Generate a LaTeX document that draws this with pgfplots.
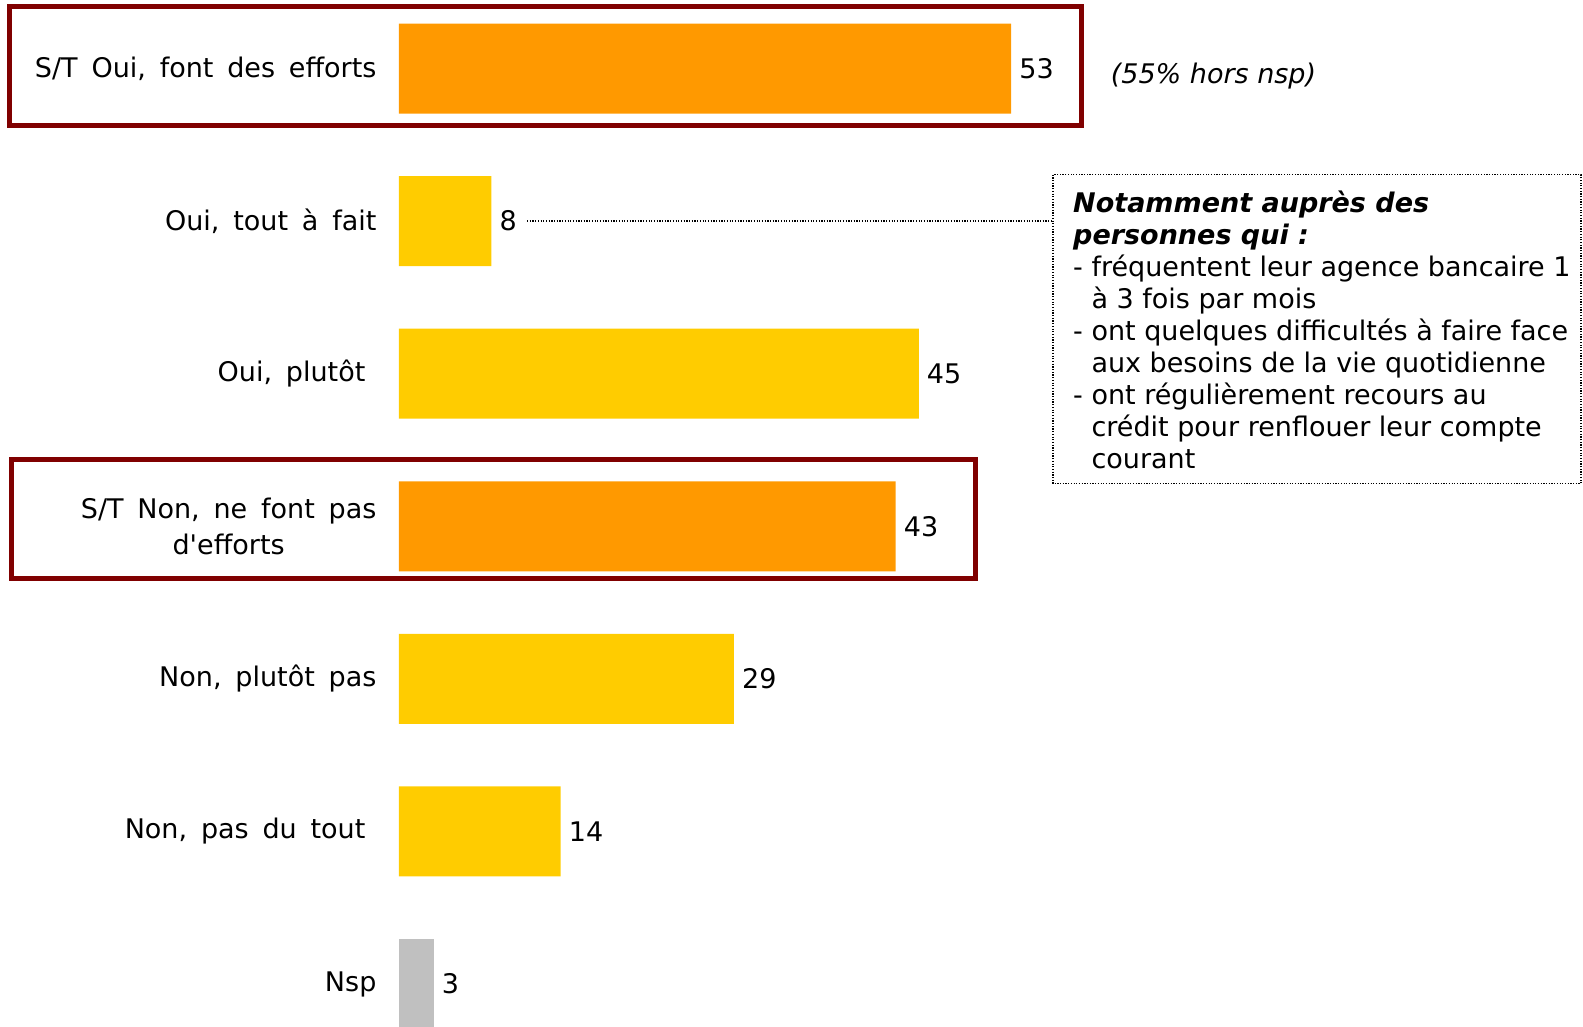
\documentclass[border=0pt]{standalone}
\usepackage{pgfplots}
\pgfplotsset{compat=1.18}
\usepackage{fontspec}
\setmainfont{DejaVu Sans}
\definecolor{orangebar}{HTML}{FF9900}
\definecolor{yellowbar}{HTML}{FFCC00}
\definecolor{greybar}{HTML}{C0C0C0}
\definecolor{boxred}{HTML}{800000}
\newcommand{\lblfont}{\fontsize{27}{36}\selectfont\spaceskip=13.8pt\relax}
\begin{document}
\begin{tikzpicture}[x=1pt,y=1pt]
\path[use as bounding box] (0,0) rectangle (1583,1026);
\begin{axis}[
 at={(399pt,0pt)}, anchor=south west, scale only axis,
 width=693pt, height=1026pt,
 xmin=0, xmax=60, ymin=-0.449, ymax=6.275, y dir=reverse,
 xbar, bar width=90pt, bar shift=0pt,
 axis line style={draw=none}, tick style={draw=none}, major tick length=0pt,
 xtick=\empty, ytick={0,1,2,3,4,5,6},
 yticklabels={{S/T Oui, font des efforts},{Oui, tout à fait},{Oui, plutôt\hspace*{11pt}},{S/T Non, ne font pas\\d\textquotesingle efforts},{Non, plutôt pas},{Non, pas du tout\hspace*{11pt}},{Nsp}},
 yticklabel style={font=\lblfont, align=center, inner sep=0pt, xshift=-22.4pt},
 nodes near coords, point meta=x,
 nodes near coords style={font=\fontsize{27}{32}\selectfont, anchor=west, inner sep=0pt, xshift=8pt, black},
 /pgf/number format/assume math mode=true,
 clip=true,
]
\addplot[fill=orangebar, draw=none] coordinates {(53,0) (43,3)};
\addplot[fill=yellowbar, draw=none] coordinates {(8,1) (45,2) (29,4) (14,5)};
\addplot[fill=greybar, draw=none] coordinates {(3,6)};
\end{axis}
\draw[boxred, line width=5pt] (9.6,1019.4) rectangle (1081.8,900.3);
\draw[boxred, line width=5pt] (11.6,566.1) rectangle (975.8,447);
\draw[line width=1.2pt, dash pattern=on 1.2pt off 1.5pt] (527,804.9) -- (1053,804.9);
\draw[line width=1.2pt, dash pattern=on 1.2pt off 1.5pt] (1053,851.3) rectangle (1581,542.4);
\node[anchor=west, inner sep=0pt, font=\fontsize{27}{32}\selectfont\itshape] at (1110.6,950.3) {(55\% hors nsp)};
\begin{scope}[every node/.style={anchor=base west, inner sep=0pt, font=\fontsize{27}{32}\selectfont}]
\node at (1073,813.6) {\bfseries\itshape Notamment auprès des};
\node at (1073,781.5) {\bfseries\itshape personnes qui :};
\node at (1073,749.5) {- fréquentent leur agence bancaire 1};
\node at (1073,717.4) {\phantom{- }à 3 fois par mois};
\node at (1073,685.4) {- ont quelques difficultés à faire face};
\node at (1073,653.3) {\phantom{- }aux besoins de la vie quotidienne};
\node at (1073,621.3) {- ont régulièrement recours au};
\node at (1073,589.2) {\phantom{- }crédit pour renflouer leur compte};
\node at (1073,557.2) {\phantom{- }courant};
\end{scope}
\end{tikzpicture}
\end{document}
